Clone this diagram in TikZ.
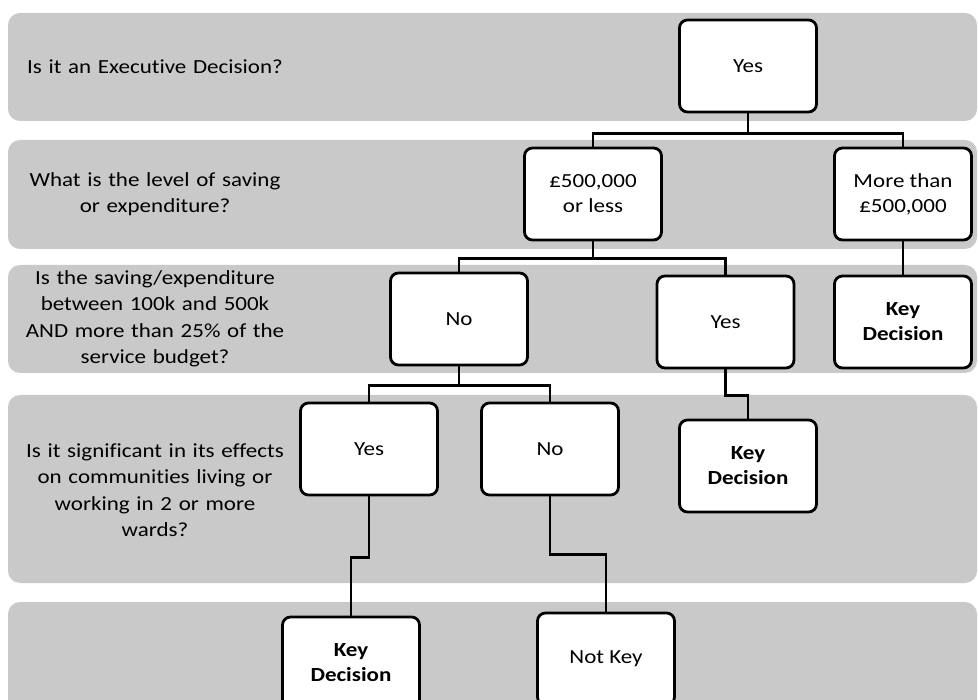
\documentclass[tikz,border=0pt]{standalone}
\usepackage{fontspec}
\setmainfont{Carlito}[FakeStretch=1.15,Ligatures=NoCommon]
\usepackage{tikz}
\usetikzlibrary{positioning}
\definecolor{bandgray}{RGB}{201,201,201}
\tikzset{
    choice/.style={
           rectangle,
           rounded corners=8pt,
           draw=black, line width=2.8pt,
           fill=white,
           minimum width=137pt,
           minimum height=92pt,
           inner sep=2pt,
           align=center,
           font=\fontsize{20}{25}\selectfont,
           },
    band/.style={fill=bandgray, rounded corners=12pt},
    question/.style={text width=270pt, align=center,
           font=\fontsize{20}{26.5}\selectfont},
    link/.style={line width=2.8pt},
}

\begin{document}
\begin{tikzpicture}[x=1pt,y=-1pt]
 \useasboundingbox (0,0) rectangle (978,700);
 \clip (0,0) rectangle (978,700);
 % grey strips
 \fill[band] (8,13) rectangle (977,121);
 \fill[band] (8,140) rectangle (977,249);
 \fill[band] (8,265) rectangle (977,373);
 \fill[band] (8,395) rectangle (977,583);
 \fill[band] (8,602) rectangle (977,730);

 % questions
 \node[question] (qExec) at (155,67) {Is it an Executive Decision?};
 \node[question] (qLevel) at (155,194) {What is the level of saving\\or expenditure?};
 \node[question] (qBudget) at (155,319)
 {Is the saving/expenditure\\between 100k and 500k\\AND more than 25\% of the\\service budget?};
 \node[question] (qWards) at (155,490)
 {Is it significant in its effects\\on communities living or\\working in 2 or more\\wards?};

 % answers
 \node[choice] (EXEC) at (748,66) {Yes};
 \node[choice] (LESS) at (593,194) {£500,000\\or less};
 \node[choice] (MORE) at (903,194) {More than\\£500,000};
 \node[choice,
 below of=MORE,
 node distance=128pt] (KEYA) {\textbf{Key}\\\textbf{Decision}};
 \node[choice] (BNO) at (459,319) {No};
 \node[choice] (BYES) at (725.5,322) {Yes};
 \node[choice] (WYES) at (369,449) {Yes};
 \node[choice] (WNO) at (550,449) {No};
 \node[choice] (KEYB) at (748,466) {\textbf{Key}\\\textbf{Decision}};
 \node[choice] (KEYC) at (351,663) {\textbf{Key}\\\textbf{Decision}};
 \node[choice] (NOTKEY) at (606,659) {Not Key};

 % links
 \draw[link] (EXEC.south) -- ++(0,20) -| (LESS.north);
 \draw[link] (EXEC.south) -- ++(0,20) -| (MORE.north);
 \draw[link] (LESS.south) -- ++(0,17) -| (BNO.north);
 \draw[link] (LESS.south) -- ++(0,17) -| (BYES.north);
 \draw[link] (MORE) -- (KEYA);
 \draw[link] (BNO.south) -- ++(0,19) -| (WYES.north);
 \draw[link] (BNO.south) -- ++(0,19) -| (WNO.north);
 \draw[link] (BYES.south) -- ++(0,26) -| (KEYB.north);
 \draw[link] (WYES.south) -- ++(0,61) -| (KEYC.north);
 \draw[link] (WNO.south) -- ++(0,58) -| (NOTKEY.north);
\end{tikzpicture}
\end{document}
